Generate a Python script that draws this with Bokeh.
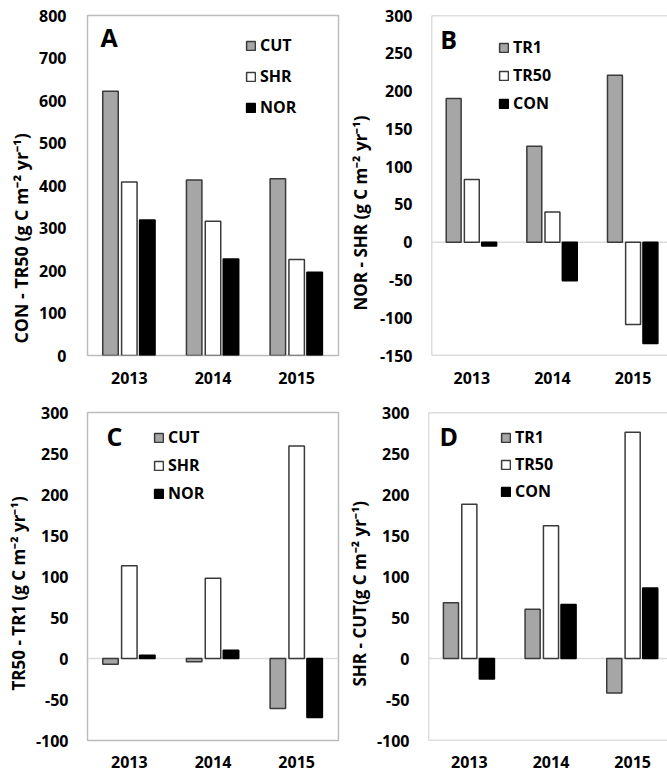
from bokeh.plotting import figure
from bokeh.models import (ColumnDataSource, Range1d, FixedTicker, Span, Label,
                          Legend, LegendItem, Title)
from bokeh.layouts import row, column
from bokeh.transform import dodge
from bokeh.embed import file_html
from bokeh.resources import INLINE

# ---------------- data ----------------
years = ["2013", "2014", "2015"]

a_labels = ["CUT", "SHR", "NOR"]
a_cut = [622, 413, 416]
a_shr = [408, 316, 226]
a_nor = [319, 227, 196]

b_labels = ["TR1", "TR50", "CON"]
b_tr1 = [190, 127, 221]
b_tr50 = [83, 40, -109]
b_con = [-5, -51, -134]

c_labels = ["CUT", "SHR", "NOR"]
c_cut = [-7, -4, -61]
c_shr = [113, 98, 259]
c_nor = [4, 10, -72]

d_labels = ["TR1", "TR50", "CON"]
d_tr1 = [68, 60, -42]
d_tr50 = [188, 162, 276]
d_con = [-25, 66, 86]

# ---------------- style ----------------
FONT = "Open Sans"
FILLS = ["#a6a6a6", "#ffffff", "#000000"]
LINES = ["#3a3a3a", "#3a3a3a", "#000000"]
OFFSETS = [-0.225, 0.0, 0.215]
BAR_W = 0.185
FRAME_COLOR = "#bcbcbc"


def panel(letter, ylabel, labels, series, y0, y1, ystep, frame_w, frame_h, x_end,
          mb_left, mb_right, mb_top, mb_bottom, tick_standoff, x_standoff,
          title_size, title_standoff, title_offset, legend_loc, legend_spacing,
          letter_xy, zero_line, open_right):
    p = figure(width=mb_left + frame_w + mb_right, height=mb_top + frame_h + mb_bottom,
               x_range=Range1d(0, x_end), y_range=Range1d(y0, y1),
               output_backend="svg", toolbar_location=None,
               min_border_left=mb_left, min_border_right=mb_right,
               min_border_top=mb_top, min_border_bottom=mb_bottom,
               background_fill_color="white", border_fill_color="white")
    p.xgrid.visible = False
    p.ygrid.visible = False

    if open_right:
        p.outline_line_alpha = 0
        for loc, dim in [(y0, "width"), (y1, "width"), (0, "height")]:
            p.add_layout(Span(location=loc, dimension=dim, line_color=FRAME_COLOR,
                              line_width=1.5, level="underlay"))
    else:
        p.outline_line_color = FRAME_COLOR
        p.outline_line_width = 1.5

    if zero_line:
        p.add_layout(Span(location=0, dimension="width", line_color="#dcdcdc",
                          line_width=1.5, level="underlay"))

    xc = [i + 0.5 for i in range(len(years))]
    renderers = []
    for k, vals in enumerate(series):
        src = ColumnDataSource(dict(xc=xc, top=vals, year=years))
        r = p.vbar(x=dodge("xc", OFFSETS[k], range=p.x_range), top="top", bottom=0,
                   width=BAR_W, source=src, fill_color=FILLS[k],
                   line_color=LINES[k], line_width=1.5)
        renderers.append(r)

    # axes
    for ax in (p.xaxis[0], p.yaxis[0]):
        ax.axis_line_color = None
        ax.major_tick_line_color = None
        ax.minor_tick_line_color = None
        ax.major_tick_out = 0
        ax.major_tick_in = 0
        ax.major_label_text_font = FONT
        ax.major_label_text_font_style = "bold"
        ax.major_label_text_font_size = "16px"
        ax.major_label_text_color = "#000000"
    p.xaxis.ticker = FixedTicker(ticks=xc)
    p.xaxis.major_label_overrides = {x: y for x, y in zip(xc, years)}
    p.xaxis.major_label_standoff = x_standoff
    yt = list(range(y0, y1 + 1, ystep))
    p.yaxis.ticker = FixedTicker(ticks=yt)
    p.yaxis.major_label_overrides = {v: str(v) for v in yt}
    p.yaxis.major_label_standoff = tick_standoff

    # y-axis title, starting at a fixed distance above the frame bottom
    p.add_layout(Title(text=ylabel, align="left", text_font=FONT,
                       text_font_style="bold", text_font_size=title_size,
                       text_color="#000000", standoff=title_standoff,
                       offset=title_offset), "left")

    legend = Legend(items=[LegendItem(label=n, renderers=[r]) for n, r in zip(labels, renderers)],
                    location=legend_loc, orientation="vertical",
                    glyph_width=11, glyph_height=11, label_height=20,
                    spacing=legend_spacing, padding=0, margin=0,
                    label_standoff=4, border_line_color=None,
                    background_fill_alpha=0,
                    label_text_font=FONT, label_text_font_style="bold",
                    label_text_font_size="16px", label_text_color="#000000")
    p.add_layout(legend)

    p.add_layout(Label(x=letter_xy[0], y=letter_xy[1], text=letter,
                       text_font=FONT, text_font_style="bold",
                       text_font_size="25px", text_baseline="top",
                       text_color="#000000"))
    return p


pa = panel("A", "CON - TR50 (g C m\u207b\u00b2 yr\u207b\u00b9)", a_labels,
           [a_cut, a_shr, a_nor], 0, 800, 100, 251, 340, 3.0,
           87, 4, 15, 40, 21, 16, "17.8px", 8, 12, (158, 237), 9,
           (0.155, 789), False, False)
pb = panel("B", "NOR - SHR (g C m\u207b\u00b2 yr\u207b\u00b9)", b_labels,
           [b_tr1, b_tr50, b_con], -150, 300, 50, 240, 343, 240 / 82,
           85, 0, 15, 37, 19, 16, "17px", 9, 45, (67, 241), 6,
           (0.11, 292), True, True)
pc = panel("C", "TR50 - TR1 (g C m\u207b\u00b2 yr\u207b\u00b9)", c_labels,
           [c_cut, c_shr, c_nor], -100, 300, 50, 251, 330, 3.0,
           87, 4, 15, 37, 19, 15, "17px", 5, 50, (66, 236), 6,
           (0.227, 291.5), True, False)
pd_ = panel("D", "SHR - CUT(g C m\u207b\u00b2 yr\u207b\u00b9)", d_labels,
            [d_tr1, d_tr50, d_con], -100, 300, 50, 240, 330, 240 / 82,
            85, 0, 17, 35, 19, 15, "17px", 6, 54, (72, 238), 5,
            (0.134, 291.5), True, True)

layout = column(row(pa, pb), row(pc, pd_))

with open("out.html", "w") as f:
    f.write(file_html(layout, INLINE))
